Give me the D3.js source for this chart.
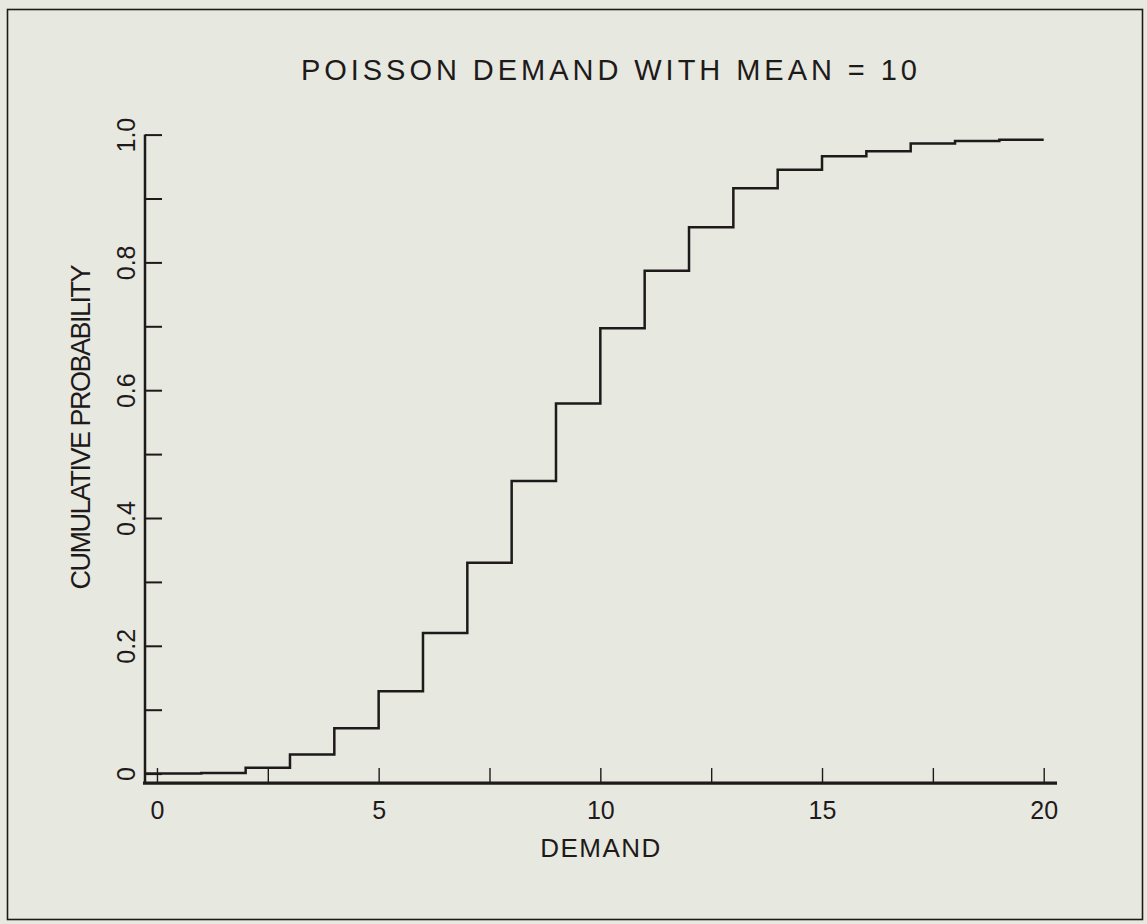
<!DOCTYPE html>
<html>
<head>
<meta charset="utf-8">
<script src="https://cdn.jsdelivr.net/npm/d3@7"></script>
<style>
  body { margin: 0; background: #e7e8e0; }
  svg { display: block; }
  text { font-family: "Liberation Sans", Arial, sans-serif; fill: #1e1a1a; }
</style>
</head>
<body>
<div id="chart-container"></div>
<script>
// Chart data
const titleText = 'POISSON DEMAND WITH MEAN = 10'
const xLabel = 'DEMAND'
const yLabel = 'CUMULATIVE PROBABILITY'

// demand k and the cumulative probability level drawn on [k, k+1)
const demand = [0, 1, 2, 3, 4, 5, 6, 7, 8, 9, 10, 11, 12, 13, 14, 15, 16, 17, 18, 19, 20]
const cumProb = [0.000, 0.001, 0.009, 0.030, 0.071, 0.129, 0.220, 0.330, 0.458, 0.579,
                 0.697, 0.787, 0.855, 0.916, 0.945, 0.966, 0.974, 0.986, 0.990, 0.992, 0.992]

const xTickValues = [0, 2.5, 5, 7.5, 10, 12.5, 15, 17.5, 20]
const xTickLabels = [0, 5, 10, 15, 20]
const yTickValues = [0, 0.1, 0.2, 0.3, 0.4, 0.5, 0.6, 0.7, 0.8, 0.9, 1.0]
const yTickLabels = [0, 0.2, 0.4, 0.6, 0.8, 1.0]

const width = 1147
const height = 924
const ink = '#1e1a1a'

const svg = d3.select('#chart-container')
    .append('svg')
    .attr('width', width)
    .attr('height', height)

// outer frame
svg.append('rect')
    .attr('x', 7.5)
    .attr('y', 9.5)
    .attr('width', 1135)
    .attr('height', 910)
    .attr('fill', 'none')
    .attr('stroke', ink)
    .attr('stroke-width', 1.6)

const xScale = d3.scaleLinear()
    .domain([-0.27, 20.3])
    .range([145, 1057])
const yScale = d3.scaleLinear()
    .domain([0, 1])
    .range([773.6, 134.6])
const axisY = yScale(-0.0148)   // x axis sits a little below zero

// title
svg.append('text')
    .attr('x', 609)
    .attr('y', 80)
    .attr('text-anchor', 'middle')
    .attr('font-size', 29)
    .attr('textLength', 616)
    .attr('lengthAdjust', 'spacing')
    .text(titleText)

// x axis
const xAxis = d3.axisBottom(xScale)
    .tickValues(xTickValues)
    .tickSize(-15)
    .tickPadding(18)
    .tickFormat(d => xTickLabels.includes(d) ? d : '')
const gx = svg.append('g')
    .attr('transform', 'translate(0,' + axisY + ')')
    .call(xAxis)
gx.select('.domain').remove()
gx.selectAll('.tick line').attr('stroke', ink).attr('stroke-width', 1.4)
gx.selectAll('.tick text')
    .attr('font-size', 25)
    .attr('font-family', '"Liberation Sans", Arial, sans-serif')
    .attr('fill', ink)
svg.append('line')
    .attr('x1', xScale.range()[0] - 2)
    .attr('x2', xScale.range()[1])
    .attr('y1', axisY)
    .attr('y2', axisY)
    .attr('stroke', ink)
    .attr('stroke-width', 3.2)

svg.append('text')
    .attr('x', 601)
    .attr('y', 857)
    .attr('text-anchor', 'middle')
    .attr('font-size', 26)
    .attr('letter-spacing', 1.5)
    .text(xLabel)

// y axis
const yAxis = d3.axisLeft(yScale)
    .tickValues(yTickValues)
    .tickSize(-17)
    .tickFormat('')
const gy = svg.append('g')
    .attr('transform', 'translate(' + xScale.range()[0] + ',0)')
    .call(yAxis)
gy.select('.domain').remove()
gy.selectAll('.tick line').attr('stroke', ink).attr('stroke-width', 2)
gy.selectAll('.tick')
    .filter(d => yTickLabels.includes(d))
    .append('text')
    .attr('transform', 'rotate(-90)')
    .attr('x', 0)
    .attr('y', -10)
    .attr('text-anchor', 'middle')
    .attr('font-size', 25)
    .attr('font-family', '"Liberation Sans", Arial, sans-serif')
    .attr('fill', ink)
    .text(d => d === 0 ? '0' : d.toFixed(1))
svg.append('line')
    .attr('x1', xScale.range()[0])
    .attr('x2', xScale.range()[0])
    .attr('y1', yScale(1))
    .attr('y2', axisY)
    .attr('stroke', ink)
    .attr('stroke-width', 2.5)

svg.append('text')
    .attr('transform', 'translate(90,427) rotate(-90)')
    .attr('text-anchor', 'middle')
    .attr('font-size', 27)
    .attr('textLength', 325)
    .attr('lengthAdjust', 'spacing')
    .text(yLabel)

// step curve, starting at the left edge of the plot
const points = demand.map((d, i) => [d, cumProb[i]])
points.unshift([xScale.domain()[0], cumProb[0]])
const line = d3.line()
    .x(d => xScale(d[0]))
    .y(d => yScale(d[1]))
    .curve(d3.curveStepAfter)
svg.append('path')
    .datum(points)
    .attr('d', line)
    .attr('fill', 'none')
    .attr('stroke', ink)
    .attr('stroke-width', 2.5)
</script>
</body>
</html>
